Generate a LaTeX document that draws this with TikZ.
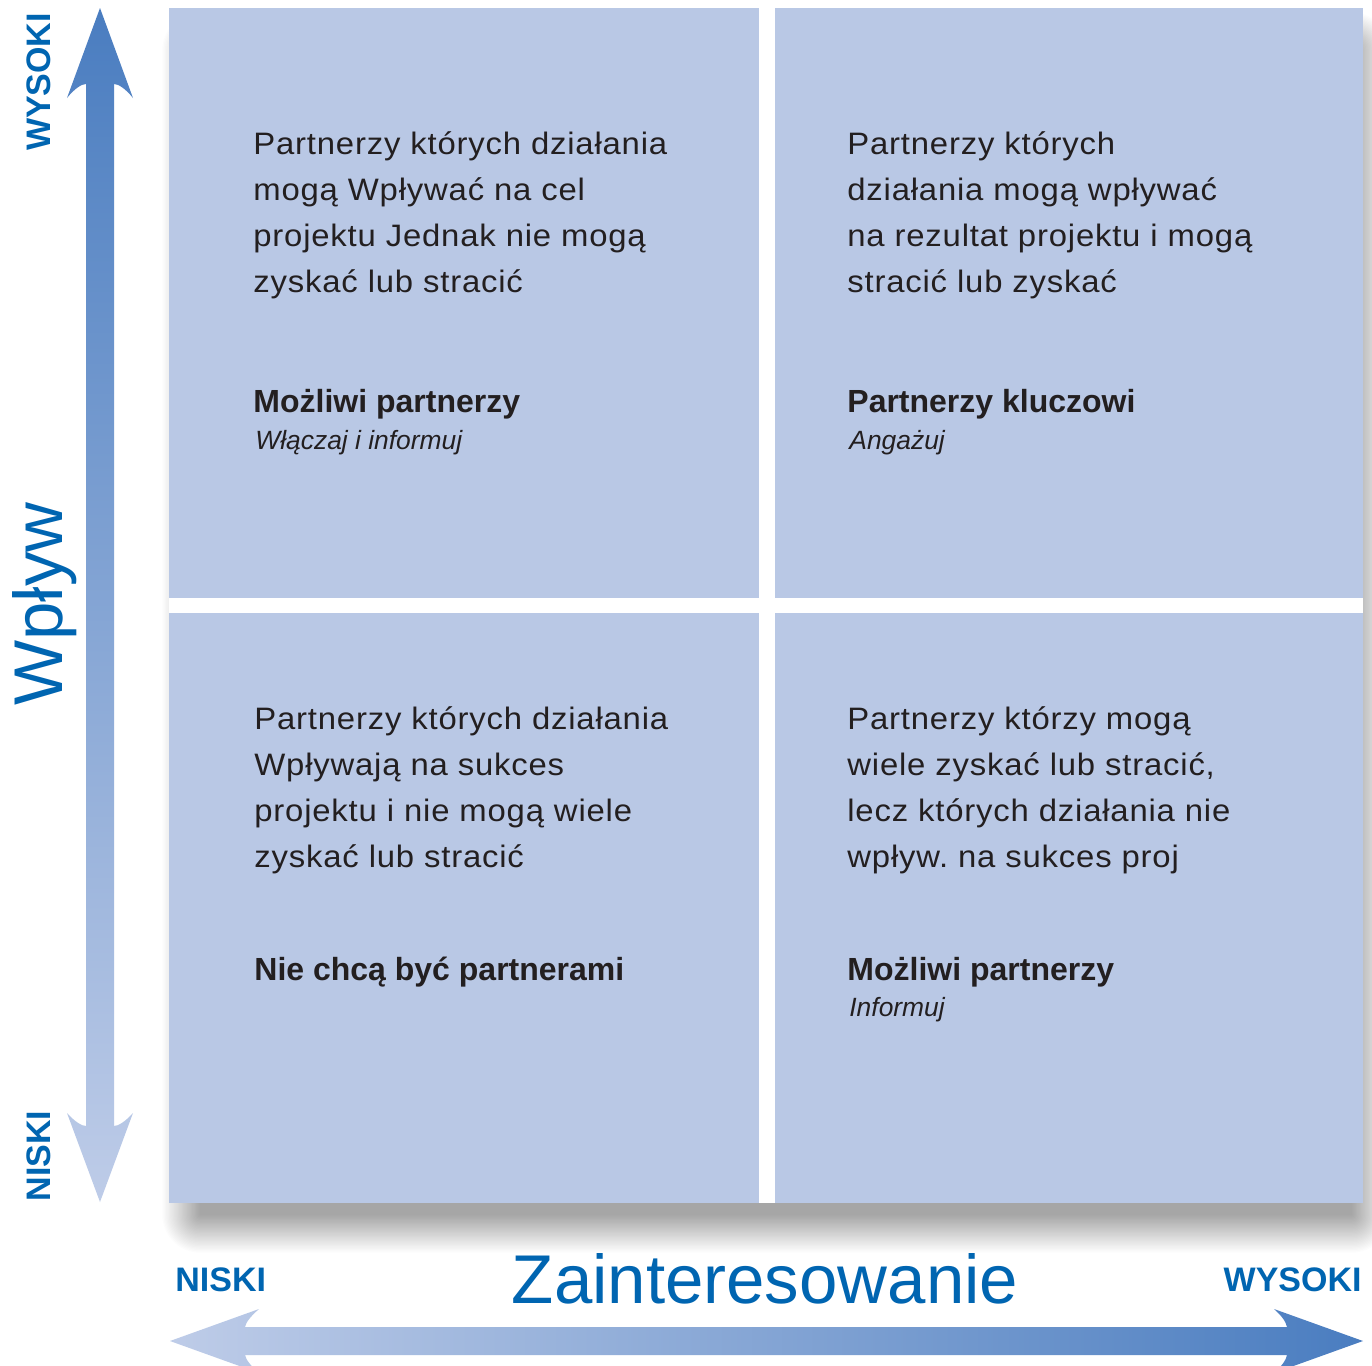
\documentclass[tikz,border=0pt]{standalone}
\usepackage{fontspec}
\setmainfont{Liberation Sans}
\frenchspacing
\definecolor{quad}{RGB}{185,200,229}
\definecolor{axisblue}{RGB}{0,101,177}
\definecolor{txt}{RGB}{35,31,32}
\definecolor{arrdark}{RGB}{74,125,192}
\definecolor{arrlight}{RGB}{190,204,232}
\begin{document}
\begin{tikzpicture}[x=0.5pt,y=-0.5pt,
  quadbox/.style={fill=quad, draw=none},
  body/.style={anchor=base west, align=left, inner sep=0pt, text=txt, font=\fontsize{15.5}{22.85}\selectfont\addfontfeature{FakeStretch=1.06,LetterSpace=2.6}},
  head/.style={anchor=base west, inner sep=0pt, text=txt, font=\fontsize{16}{19}\selectfont\bfseries},
  sub/.style={anchor=base west, inner sep=0pt, text=txt, font=\fontsize{13.2}{16}\selectfont\itshape},
  axisbig/.style={inner sep=0pt, text=axisblue, font=\fontsize{34.5}{40}\selectfont},
  axissmall/.style={inner sep=0pt, text=axisblue, font=\fontsize{17}{20}\selectfont\bfseries}]

\useasboundingbox (0,0) rectangle (1372,1366);
\fill[white] (0,0) rectangle (1372,1366);

% soft shadow under the matrix
\foreach \k in {0,...,29}{
  \pgfmathsetmacro\e{\k*1.3}
  \pgfmathsetmacro\rc{\k*0.65+0.1}
  \fill[black, fill opacity=0.0105, rounded corners=\rc pt]
    (200-\e,50-\e) rectangle (1352+\e,1215+\e);
}
\fill[white] (169,8) rectangle (1363,1203);

% quadrants
\fill[quadbox] (169,8) rectangle (759,598);
\fill[quadbox] (775,8) rectangle (1363,598);
\fill[quadbox] (169,613) rectangle (759,1203);
\fill[quadbox] (775,613) rectangle (1363,1203);

% vertical arrow
\shade[top color=arrdark, bottom color=arrlight]
  (100,8) -- (133,98) .. controls (125,88) and (118,84) .. (114,84)
  -- (114,1126) .. controls (118,1126) and (125,1122) .. (133,1113)
  -- (100,1202) -- (67,1113) .. controls (75,1122) and (82,1126) .. (86,1126)
  -- (86,84) .. controls (82,84) and (75,88) .. (67,98) -- cycle;

% horizontal arrow
\shade[left color=arrlight, right color=arrdark]
  (170,1341) -- (259,1309) .. controls (251,1316) and (246,1322) .. (245,1327)
  -- (1287,1327) .. controls (1286,1322) and (1282,1316) .. (1274,1309)
  -- (1363,1341) -- (1274,1373) .. controls (1282,1366) and (1286,1360) .. (1287,1355)
  -- (245,1355) .. controls (246,1360) and (251,1366) .. (259,1373) -- cycle;

% quadrant texts (base anchor = baseline of the last line)
\node[body] (tl) at (253,292) {Partnerzy których działania\\mogą Wpływać na cel\\projektu Jednak nie mogą\\zyskać lub stracić};
\node[head] (tlh) at (253,412) {Możliwi partnerzy};
\node[sub] (tls) at (255,449) {Włączaj i informuj};

\node[body] (tr) at (847,292) {Partnerzy których\\działania mogą wpływać\\na rezultat projektu i mogą\\stracić lub zyskać};
\node[head] (trh) at (847,412) {Partnerzy kluczowi};
\node[sub] (trs) at (849,449) {Angażuj};

\node[body] (bl) at (254,867) {Partnerzy których działania\\Wpływają na sukces\\projektu i nie mogą wiele\\zyskać lub stracić};
\node[head] (blh) at (254,980) {Nie chcą być partnerami};

\node[body] (br) at (847,867) {Partnerzy którzy mogą\\wiele zyskać lub stracić,\\lecz których działania nie\\wpływ. na sukces proj};
\node[head] (brh) at (847,980) {Możliwi partnerzy};
\node[sub] (brs) at (849,1016) {Informuj};

% axis labels
\node[axisbig, anchor=base, rotate=90] (wplyw) at (62,604) {Wpływ};
\node[axissmall, anchor=base, rotate=90] (yhigh) at (50,82) {WYSOKI};
\node[axissmall, anchor=base, rotate=90] (ylow) at (50,1156) {NISKI};
\node[axisbig, anchor=base] (zaint) at (765,1303) {Zainteresowanie};
\node[axissmall, anchor=base west] (xlow) at (175,1291) {NISKI};
\node[axissmall, anchor=base east] (xhigh) at (1362,1291) {WYSOKI};
\end{tikzpicture}
\end{document}
